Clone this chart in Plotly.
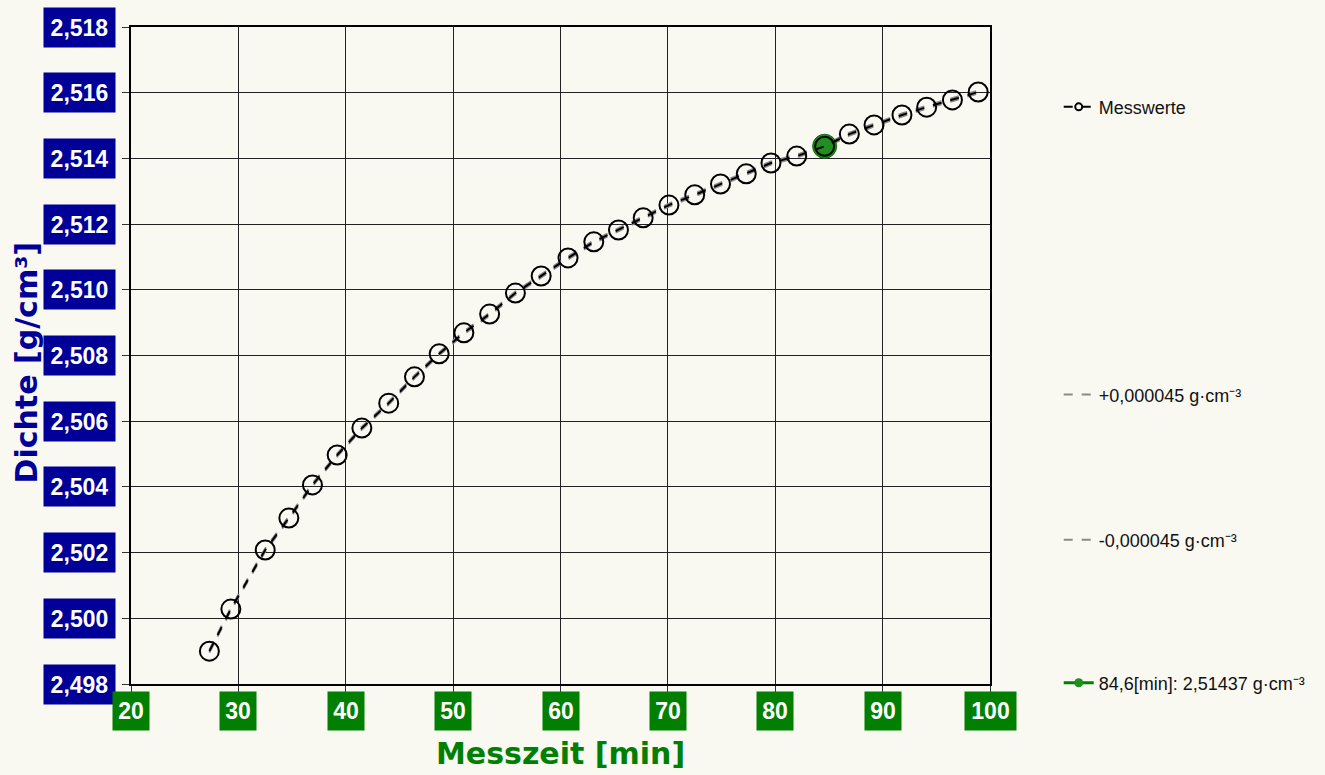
import plotly.graph_objects as go

# Messzeit [min] and Dichte [g/cm³]
zeit = [27.3, 29.3, 32.5, 34.7, 36.9, 39.2, 41.5, 44.0, 46.4, 48.7, 51.0,
        53.4, 55.8, 58.2, 60.7, 63.1, 65.4, 67.7, 70.1, 72.5, 74.9, 77.3,
        79.6, 82.0, 84.6, 86.9, 89.2, 91.8, 94.1, 96.5, 98.9]
dichte = [2.49900, 2.50028, 2.50208, 2.50305, 2.50406, 2.50497, 2.50579,
          2.50655, 2.50735, 2.50805, 2.50869, 2.50926, 2.50990, 2.51042,
          2.51097, 2.51146, 2.51182, 2.51219, 2.51258, 2.51289, 2.51322,
          2.51353, 2.51386, 2.51407, 2.51437, 2.51474, 2.51502, 2.51532,
          2.51556, 2.51578, 2.51602]
toleranz = 0.000045
markierung_zeit = 84.6
markierung_dichte = 2.51437

x_ticks = [20, 30, 40, 50, 60, 70, 80, 90, 100]
x_tick_labels = ["20", "30", "40", "50", "60", "70", "80", "90", "100"]
y_ticks = [2.498, 2.500, 2.502, 2.504, 2.506, 2.508, 2.510, 2.512, 2.514, 2.516, 2.518]
y_tick_labels = ["2,498", "2,500", "2,502", "2,504", "2,506", "2,508",
                 "2,510", "2,512", "2,514", "2,516", "2,518"]

BG = "#F9F8F1"
NAVY = "#000099"
GREEN = "#007F00"
LEG_FONT = dict(family="Liberation Sans Narrow, Liberation Sans, Arial", size=18, color="#111")

fig = go.Figure()

# tolerance band lines
fig.add_trace(go.Scatter(
    x=zeit, y=[d + toleranz for d in dichte], mode="lines",
    name="+0,000045 g·cm⁻³", legend="legend2",
    line=dict(color="#8a8a8a", width=2, dash="dash"),
))
fig.add_trace(go.Scatter(
    x=zeit, y=[d - toleranz for d in dichte], mode="lines",
    name="-0,000045 g·cm⁻³", legend="legend3",
    line=dict(color="#8a8a8a", width=2, dash="dash"),
))

# highlighted measurement point (legend shown by a compact key entry)
fig.add_trace(go.Scatter(
    x=[markierung_zeit], y=[markierung_dichte], mode="markers",
    showlegend=False,
    marker=dict(size=24, color="#1f8f1f", line=dict(color="#0a6a0a", width=1)),
))
fig.add_trace(go.Scatter(
    x=[None], y=[None], mode="lines+markers",
    name="84,6[min]: 2,51437 g·cm⁻³", legend="legend4",
    line=dict(color=GREEN, width=3),
    marker=dict(size=9, color="#1f8f1f"),
))

# measured values
fig.add_trace(go.Scatter(
    x=zeit, y=dichte, mode="lines+markers", showlegend=False,
    line=dict(color="#000", width=2, dash="dash"),
    marker=dict(symbol="circle-open", size=19, color="#000", line=dict(width=2)),
))
fig.add_trace(go.Scatter(
    x=[None], y=[None], mode="lines+markers", name="Messwerte", legend="legend",
    line=dict(color="#000", width=2, dash="dash"),
    marker=dict(symbol="circle-open", size=7, color="#000", line=dict(width=2)),
))

# boxed tick labels
for v, t in zip(y_ticks, y_tick_labels):
    fig.add_annotation(
        x=0, xref="paper", xanchor="right", xshift=-15,
        y=v, yref="y", yanchor="middle",
        text="<b>%s</b>" % t, showarrow=False,
        bgcolor=NAVY, width=71, height=39, borderpad=0,
        font=dict(family="Liberation Sans, Arial", size=23, color="white"),
    )
for v, t in zip(x_ticks, x_tick_labels):
    fig.add_annotation(
        x=v, xref="x", xanchor="center",
        y=0, yref="paper", yanchor="top", yshift=-7,
        text="<b>%s</b>" % t, showarrow=False,
        bgcolor=GREEN, width=36 if len(t) < 3 else 51, height=38, borderpad=0,
        font=dict(family="Liberation Sans, Arial", size=23, color="white"),
    )

axis_common = dict(
    showline=True, linecolor="#000", linewidth=1.5, mirror=True,
    showgrid=True, gridcolor="#222", gridwidth=1,
    zeroline=False, ticks="outside", ticklen=7, tickcolor="#333",
    showticklabels=False,
)

fig.update_xaxes(range=[20, 100], tickvals=x_ticks, **axis_common)
fig.update_yaxes(range=[2.498, 2.518], tickvals=y_ticks, **axis_common)

fig.add_annotation(
    x=0.5, xref="paper", y=0, yref="paper", yanchor="top", yshift=-50,
    text="<b>Messzeit [min]</b>", showarrow=False,
    font=dict(family="DejaVu Sans", size=30, color=GREEN),
)
fig.add_annotation(
    x=0, xref="paper", xanchor="center", xshift=-105,
    y=0.5, yref="paper", yanchor="middle", yshift=-7, textangle=-90,
    text="<b>Dichte [g/cm³]</b>", showarrow=False,
    font=dict(family="DejaVu Sans", size=30, color=NAVY),
)

leg = dict(bgcolor="rgba(0,0,0,0)", font=LEG_FONT, xanchor="left", yanchor="middle",
           x=1.08, itemwidth=30)
fig.update_layout(
    width=1325, height=775,
    paper_bgcolor=BG, plot_bgcolor=BG,
    margin=dict(l=131, r=335, t=27, b=91),
    showlegend=True,
    legend=dict(leg, y=0.878),
    legend2=dict(leg, y=0.44),
    legend3=dict(leg, y=0.219),
    legend4=dict(leg, y=0.0015),
)

fig.write_html("out.html")
